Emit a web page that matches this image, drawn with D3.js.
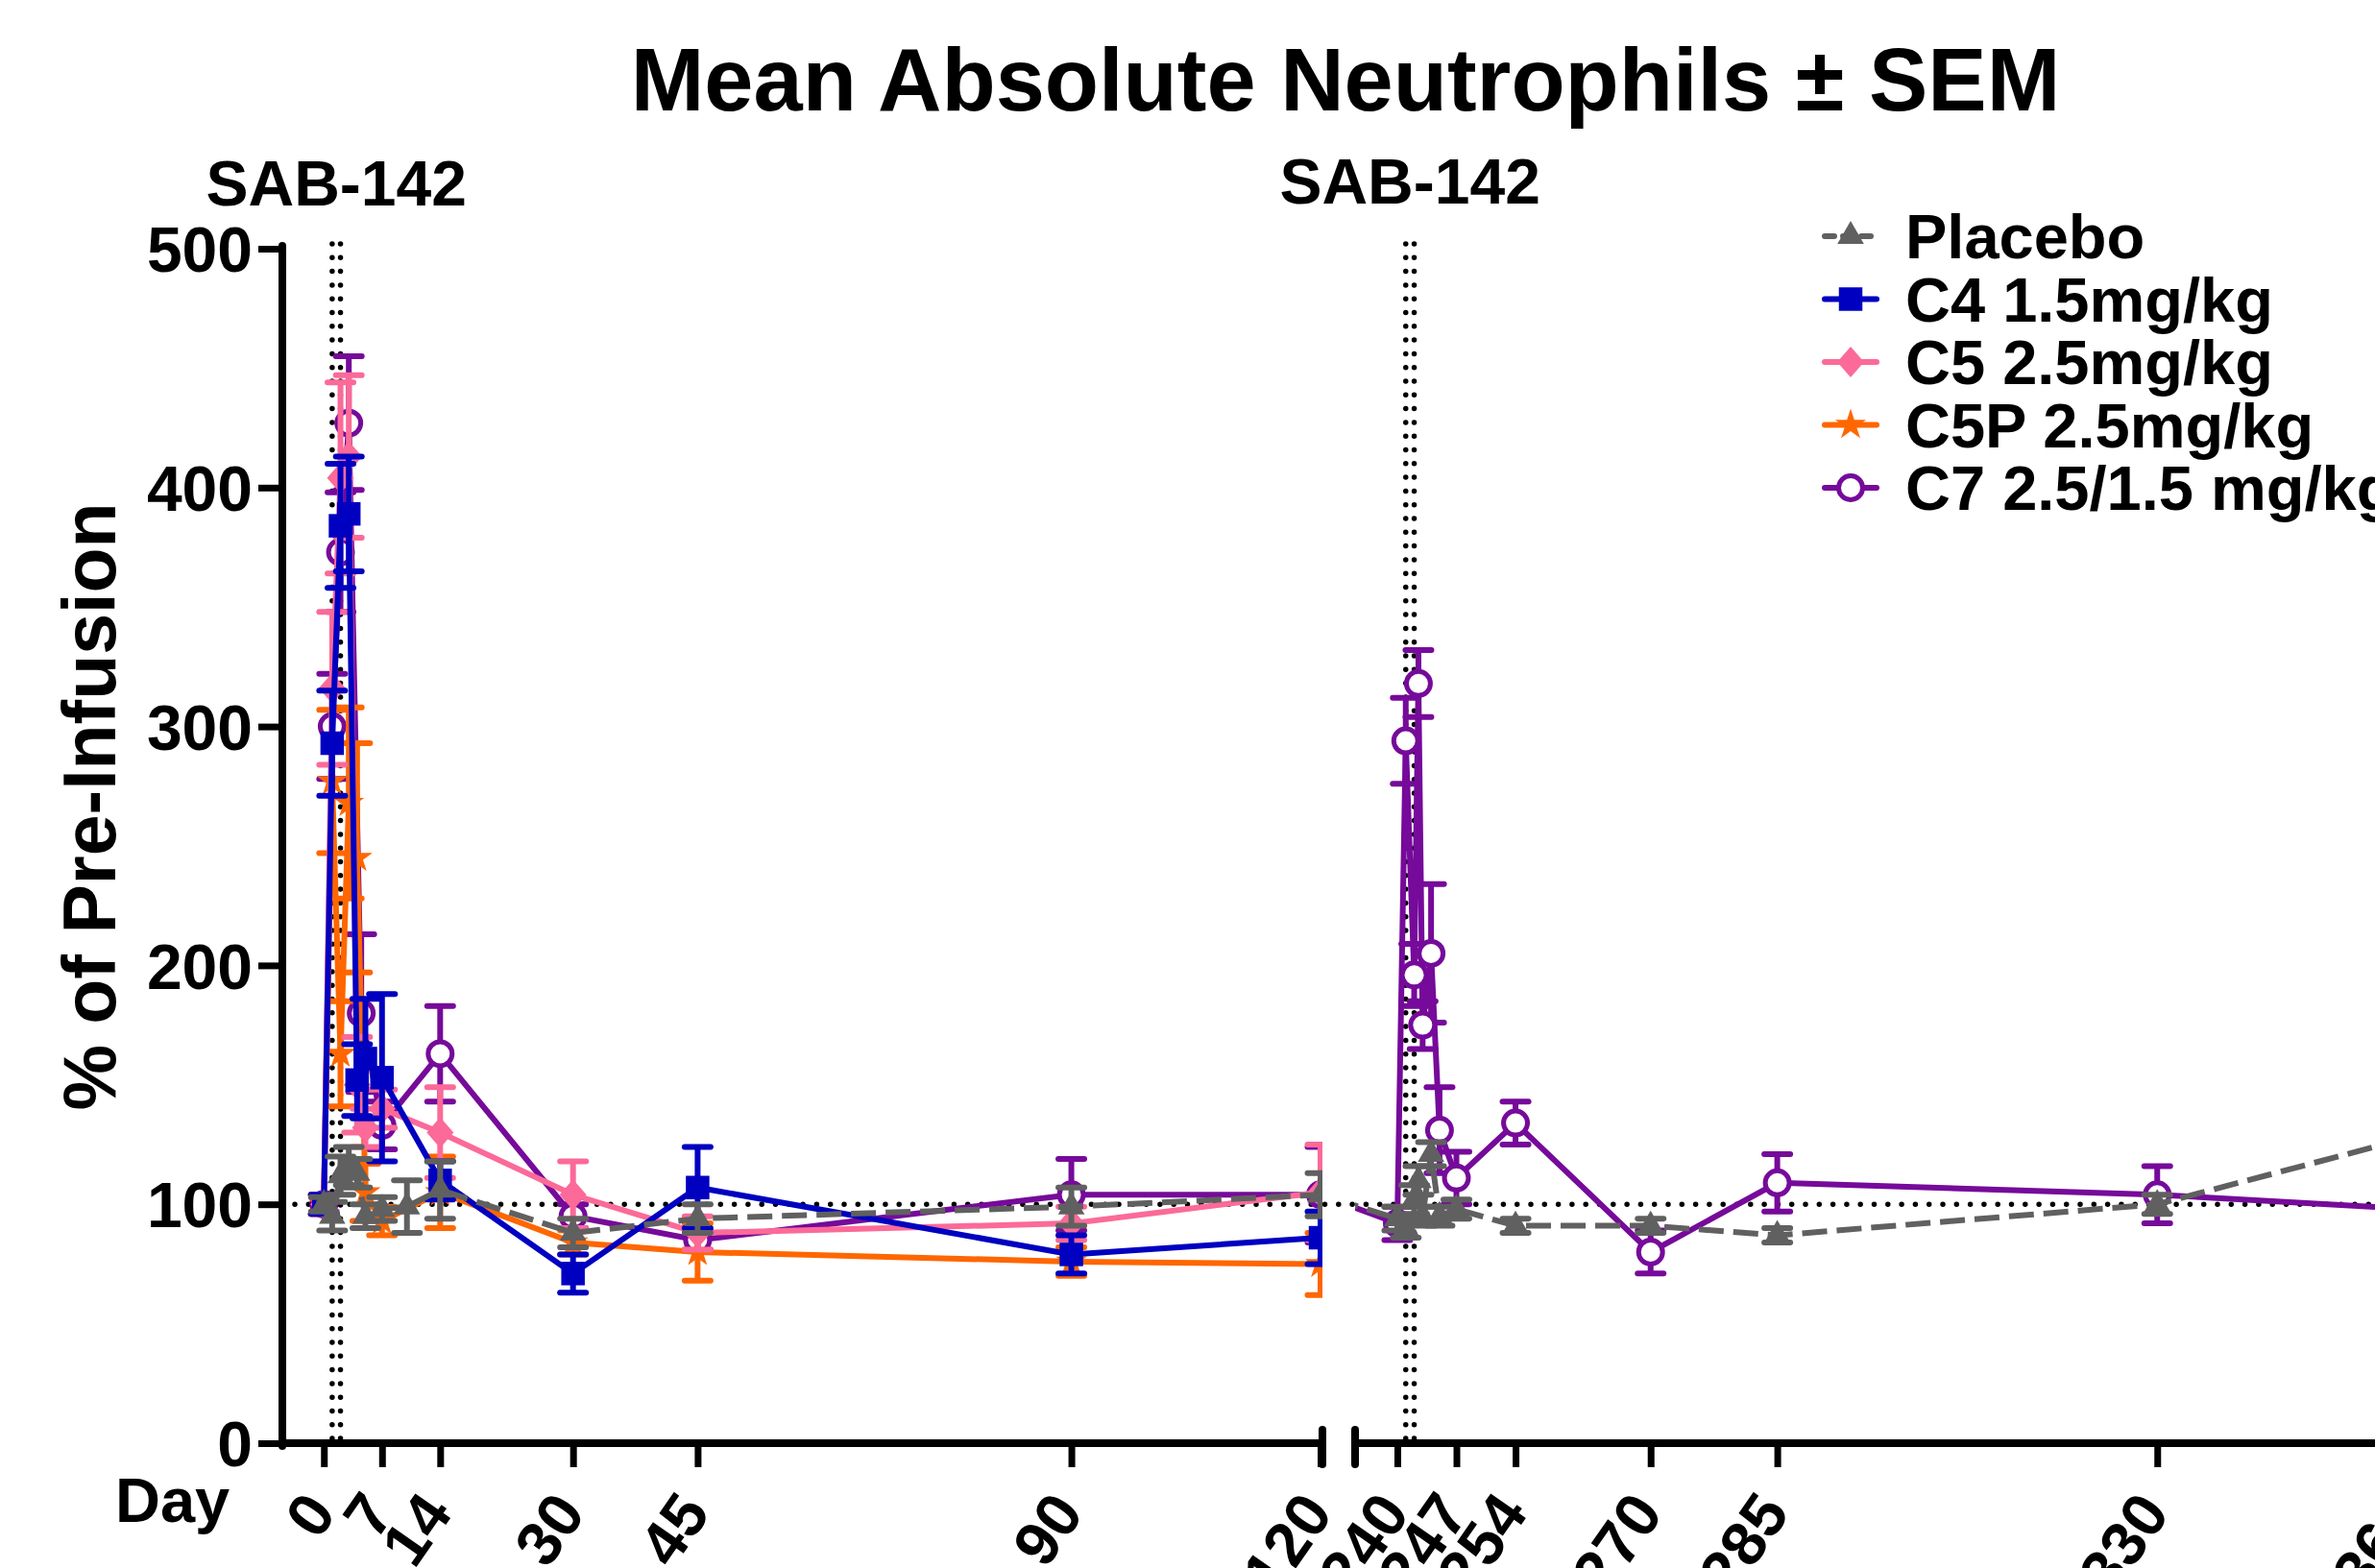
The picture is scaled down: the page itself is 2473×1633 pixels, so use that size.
<!DOCTYPE html>
<html>
<head>
<meta charset="utf-8">
<script src="https://cdn.jsdelivr.net/npm/d3@7"></script>
<style>
  body { margin: 0; background: #fff; }
  text { font-family: "Liberation Sans", Arial, sans-serif; font-weight: bold; fill: #000; }
</style>
</head>
<body>
<svg id="chart" width="2473" height="1633"></svg>
<script>
// ---- data ----
var xTicks = [0, 7, 14, 30, 45, 90, 120, 240, 247, 254, 270, 285, 330, 360];
var yTicks = [0, 100, 200, 300, 400, 500];
var infusionDays = [1, 2, 241, 242];

var placeboDays = [0, 1, 2, 3, 4, 5, 7, 10, 14, 30, 45, 90, 120, 240, 241, 242, 242.5, 243, 244, 245, 247, 254, 270, 285, 330, 360];
var placeboMean = [100, 95, 112, 116, 113, 95, 98, 99, 106, 88, 94, 99, 104, 94, 90, 102, 110, 95, 121, 95, 98, 91, 91, 87, 100, 128];
var placeboSem  = [3, 6, 8, 8, 6, 5, 5, 11, 12, 6, 6, 8, 9, 5, 4, 6, 6, 4, 5, 4, 4, 3, 3, 3, 4, 8];

var c4Days = [0, 1, 2, 3, 4, 5, 7, 14, 30, 45, 90, 120];
var c4Mean = [100, 293, 384, 389, 152, 161, 153, 110, 71, 107, 79, 86];
var c4Sem  = [4, 22, 26, 24, 15, 25, 35, 8, 8, 17, 8, 11];

var c5Days = [0, 1, 2, 3, 4, 5, 7, 14, 30, 45, 90, 120];
var c5Mean = [100, 316, 404, 413, 150, 132, 140, 130, 104, 88, 92, 105];
var c5Sem  = [4, 32, 40, 34, 20, 8, 8, 19, 14, 7, 7, 20];

var c5pDays = [0, 1, 2, 3, 4, 5, 7, 14, 30, 45, 90, 120];
var c5pMean = [100, 277, 163, 268, 245, 105, 93, 105, 84, 80, 76, 75];
var c5pSem  = [4, 30, 22, 40, 48, 12, 6, 15, 5, 12, 6, 13];

var c7Days = [0, 1, 2, 3, 4.5, 7, 14, 30, 45, 90, 120, 240, 241, 242, 242.5, 243, 244, 245, 247, 254, 270, 285, 330, 360];
var c7Mean = [100, 300, 373, 427, 180, 133, 163, 95, 85, 104, 104, 92, 294, 196, 318, 175, 205, 131, 111, 134, 80, 109, 104, 98];
var c7Sem  = [4, 22, 25, 28, 33, 10, 20, 5, 4, 15, 20, 7, 18, 13, 14, 10, 29, 18, 11, 9, 9, 12, 12, 8];

function rows(days, mean, sem) {
  return days.map(function (d, i) { return { day: d, mean: mean[i], sem: sem[i] }; });
}

// drawn bottom to top
var series = [
  { name: "C7 2.5/1.5 mg/kg", color: "#760A9A", shape: "circle", dash: null, data: rows(c7Days, c7Mean, c7Sem) },
  { name: "C5P 2.5mg/kg", color: "#FF6600", shape: "star", dash: null, data: rows(c5pDays, c5pMean, c5pSem) },
  { name: "C5 2.5mg/kg", color: "#FB6A98", shape: "diamond", dash: null, data: rows(c5Days, c5Mean, c5Sem) },
  { name: "C4 1.5mg/kg", color: "#0000C0", shape: "square", dash: null, data: rows(c4Days, c4Mean, c4Sem) },
  { name: "Placebo", color: "#606060", shape: "triangle", dash: "26 10", data: rows(placeboDays, placeboMean, placeboSem) }
];
var legendOrder = ["Placebo", "C4 1.5mg/kg", "C5 2.5mg/kg", "C5P 2.5mg/kg", "C7 2.5/1.5 mg/kg"];

// ---- layout ----
var W = 2473, H = 1633;
var svg = d3.select("#chart");

// broken x axis: two linear pieces, gap between 120 and 235
var x = d3.scaleLinear().domain([-5, 120, 235, 360]).range([294, 1375, 1411, 2510]);
var y = d3.scaleLinear().domain([0, 500]).range([1503, 259]);

var defs = svg.append("defs");
defs.append("clipPath").attr("id", "seg1").append("rect")
  .attr("x", x(-5)).attr("y", 0).attr("width", x(120) + 2 - x(-5)).attr("height", H);
defs.append("clipPath").attr("id", "seg2").append("rect")
  .attr("x", x(235)).attr("y", 0).attr("width", W - x(235)).attr("height", H);

function symbolPath(shape) {
  if (shape === "triangle") return d3.symbol(d3.symbolTriangle, 330)();
  if (shape === "square") return d3.symbol(d3.symbolSquare, 600)();
  if (shape === "star") return d3.symbol(d3.symbolStar, 320)();
  if (shape === "diamond") return "M0,-16L14,0L0,16L-14,0Z";
  return d3.symbol(d3.symbolCircle, 490)();
}

function markers(sel, s) {
  sel.attr("d", symbolPath(s.shape))
    .attr("fill", s.shape === "circle" ? "#fff" : s.color)
    .attr("stroke", s.shape === "circle" ? s.color : "none")
    .attr("stroke-width", 5);
}

// reference lines (dotted)
svg.append("line")
  .attr("x1", 307).attr("x2", W).attr("y1", y(100)).attr("y2", y(100))
  .attr("stroke", "#000").attr("stroke-width", 5.5).attr("stroke-linecap", "round")
  .attr("stroke-dasharray", "0 14.3");
svg.selectAll(".infusion").data(infusionDays).enter().append("line")
  .attr("class", "infusion")
  .attr("x1", function (d) { return x(d); }).attr("x2", function (d) { return x(d); })
  .attr("y1", y(502)).attr("y2", y(0))
  .attr("stroke", "#000").attr("stroke-width", 5.5).attr("stroke-linecap", "round")
  .attr("stroke-dasharray", "0 14.3");

var line = d3.line().x(function (d) { return x(d.day); }).y(function (d) { return y(d.mean); });

["seg1", "seg2"].forEach(function (clip) {
  var g = svg.append("g").attr("clip-path", "url(#" + clip + ")");
  series.forEach(function (s) {
    var sg = g.append("g");
    sg.append("path").datum(s.data)
      .attr("d", line).attr("fill", "none")
      .attr("stroke", s.color).attr("stroke-width", 6)
      .attr("stroke-dasharray", s.dash);
    var eb = sg.selectAll(".eb").data(s.data).enter().append("g")
      .attr("transform", function (d) { return "translate(" + x(d.day) + ",0)"; });
    eb.append("line").attr("x1", 0).attr("x2", 0)
      .attr("y1", function (d) { return y(d.mean - d.sem); })
      .attr("y2", function (d) { return y(d.mean + d.sem); })
      .attr("stroke", s.color).attr("stroke-width", 6);
    [-1, 1].forEach(function (k) {
      eb.append("line").attr("x1", -13.5).attr("x2", 13.5)
        .attr("y1", function (d) { return y(d.mean + k * d.sem); })
        .attr("y2", function (d) { return y(d.mean + k * d.sem); })
        .attr("stroke", s.color).attr("stroke-width", 6).attr("stroke-linecap", "round");
    });
    sg.selectAll(".mk").data(s.data).enter().append("path")
      .attr("transform", function (d) { return "translate(" + x(d.day) + "," + y(d.mean) + ")"; })
      .call(markers, s);
  });
});

// ---- axes ----
var yAxis = svg.append("g").attr("transform", "translate(" + x(-5) + ",0)")
  .call(d3.axisLeft(y).tickValues(yTicks).tickSize(25).tickPadding(6).tickFormat(d3.format("d")));
yAxis.select(".domain").remove();
yAxis.selectAll(".tick line").attr("stroke", "#000").attr("stroke-width", 7);
yAxis.selectAll("text").style("font-size", "66px").attr("dy", "0.36em");
svg.append("line").attr("x1", x(-5)).attr("x2", x(-5)).attr("y1", y(500) - 3).attr("y2", y(0) + 3)
  .attr("stroke", "#000").attr("stroke-width", 8).attr("stroke-linecap", "round");

var xAxis = svg.append("g").attr("transform", "translate(0," + y(0) + ")")
  .call(d3.axisBottom(x).tickValues(xTicks).tickSize(25).tickFormat(d3.format("d")));
xAxis.select(".domain").remove();
xAxis.selectAll(".tick line").attr("stroke", "#000").attr("stroke-width", 7);
xAxis.selectAll("text")
  .style("font-size", "65px")
  .attr("text-anchor", "end")
  .attr("x", 0).attr("y", 0).attr("dy", null)
  .attr("transform", "translate(14,73) rotate(-55)");

// two axis pieces with break marks
[[x(-5), x(120) + 2], [x(235), W + 10]].forEach(function (p) {
  svg.append("line").attr("x1", p[0]).attr("x2", p[1]).attr("y1", y(0)).attr("y2", y(0))
    .attr("stroke", "#000").attr("stroke-width", 8).attr("stroke-linecap", "round");
});
[x(120) + 2, x(235)].forEach(function (bx) {
  svg.append("line").attr("x1", bx).attr("x2", bx).attr("y1", y(0) - 14).attr("y2", y(0) + 22)
    .attr("stroke", "#000").attr("stroke-width", 8).attr("stroke-linecap", "round");
});

// ---- texts ----
svg.append("text").attr("x", 1401).attr("y", 115).attr("text-anchor", "middle")
  .style("font-size", "92px").text("Mean Absolute Neutrophils \u00B1 SEM");
svg.append("text").attr("x", (x(1) + x(2)) / 2).attr("y", 214).attr("text-anchor", "middle")
  .style("font-size", "66px").text("SAB-142");
svg.append("text").attr("x", (x(241) + x(242)) / 2).attr("y", 212).attr("text-anchor", "middle")
  .style("font-size", "66px").text("SAB-142");
svg.append("text").attr("transform", "translate(120,840) rotate(-90)").attr("text-anchor", "middle")
  .style("font-size", "77px").text("% of Pre-Infusion");
svg.append("text").attr("x", 120).attr("y", 1585).style("font-size", "65px").text("Day");

// ---- legend ----
var lg = svg.append("g").attr("transform", "translate(1900,246)");
legendOrder.forEach(function (name, i) {
  var s = series.filter(function (d) { return d.name === name; })[0];
  var row = lg.append("g").attr("transform", "translate(0," + (i * 65.5) + ")");
  row.append("line").attr("x1", 0).attr("x2", 54).attr("y1", 0).attr("y2", 0)
    .attr("stroke", s.color).attr("stroke-width", 6).attr("stroke-linecap", "round")
    .attr("stroke-dasharray", s.dash ? "10 9" : null);
  row.append("path").attr("transform", "translate(27,0)").call(markers, s);
  row.append("text").attr("x", 84).attr("y", 23).style("font-size", "65px").text(s.name);
});
</script>
</body>
</html>
